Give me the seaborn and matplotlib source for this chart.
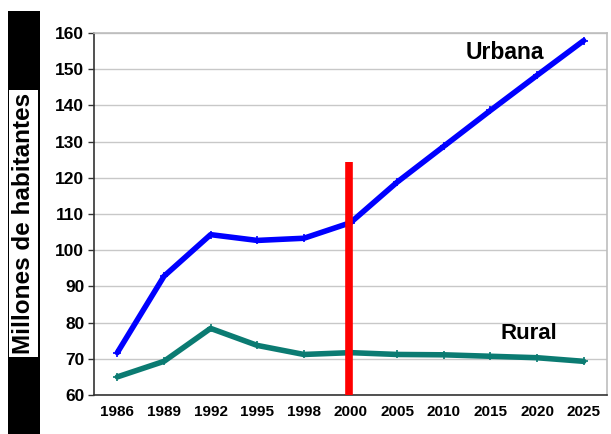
import matplotlib
matplotlib.use("Agg")
import matplotlib.pyplot as plt
from matplotlib.patches import Rectangle
import seaborn as sns
import pandas as pd
import numpy as np

# Population data (millions)
years = ["1986", "1989", "1992", "1995", "1998", "2000",
         "2005", "2010", "2015", "2020", "2025"]
urbana = [71.7, 92.8, 104.3, 102.7, 103.3, 107.6,
          118.8, 128.7, 138.6, 148.3, 157.9]
rural = [65.0, 69.3, 78.4, 73.7, 71.2, 71.7,
         71.2, 71.1, 70.7, 70.3, 69.3]
marker_pos = 4.96      # vertical red reference line (category position)
marker_top = 124.4

sns.set_theme(style="white")
plt.rcParams["font.family"] = ["Liberation Sans", "DejaVu Sans"]
plt.rcParams["text.color"] = "black"
plt.rcParams["xtick.color"] = "#333333"
plt.rcParams["ytick.color"] = "#333333"
plt.rcParams["xtick.labelcolor"] = "black"
plt.rcParams["ytick.labelcolor"] = "black"

colors = {"Urbana": "#0000ff", "Rural": "#0b7b72"}
df = pd.DataFrame({
    "pos": list(range(len(years))) * 2,
    "valor": urbana + rural,
    "serie": ["Urbana"] * len(years) + ["Rural"] * len(years),
})

fig = plt.figure(figsize=(6.11, 4.34), dpi=100)
fig.patch.set_facecolor("white")
ax = fig.add_axes([94 / 611, 1 - 395 / 434, (607 - 94) / 611, (395 - 33) / 434])

sns.lineplot(data=df, x="pos", y="valor", hue="serie", palette=colors,
             linewidth=4.0, marker="+", markersize=5.5, markeredgewidth=1.2,
             legend=False, ax=ax, zorder=3)
for line in ax.get_lines():
    line.set_markeredgecolor(line.get_color())

ax.vlines(marker_pos, 60, marker_top, color="#ff0000", linewidth=5.5, zorder=4)

ax.set_xlim(-0.5, len(years) - 0.5)
ax.set_ylim(60, 160)
ax.set_yticks(np.arange(60, 161, 10))
ax.set_xticks(range(len(years)))
ax.set_xticklabels(years, fontsize=11, fontweight="bold")
ax.set_xticks(np.arange(-0.5, len(years), 1), minor=True)
ax.tick_params(axis="x", which="major", length=0, pad=7)
ax.tick_params(axis="x", which="minor", length=5, width=1, direction="out")
ax.tick_params(axis="y", length=4, width=1, direction="out", pad=3, left=True)
for lab in ax.get_yticklabels():
    lab.set_fontsize(12.5)
    lab.set_fontweight("bold")

ax.grid(axis="y", color="#c8c8c8", linewidth=1)
ax.set_axisbelow(True)
ax.set_xlabel("")
ax.set_ylabel("")
for side in ("left", "bottom"):
    ax.spines[side].set_color("#333333")
    ax.spines[side].set_linewidth(1.2)
for side in ("top", "right"):
    ax.spines[side].set_color("#bdbdbd")
    ax.spines[side].set_linewidth(1.2)

ax.text(8.32, 154.5, "Urbana", fontsize=16.5, fontweight="bold", ha="center", va="center")
ax.text(8.83, 77.1, "Rural", fontsize=16, fontweight="bold", ha="center", va="center")

# Axis title panel on the left
fig.patches.append(Rectangle((8 / 611, 0), 32 / 611, 1 - 11 / 434,
                             transform=fig.transFigure, facecolor="black",
                             edgecolor="none", zorder=0))
fig.patches.append(Rectangle((9 / 611, 1 - 357 / 434), 29 / 611, (357 - 90) / 434,
                             transform=fig.transFigure, facecolor="white",
                             edgecolor="none", zorder=1))
fig.text(23.5 / 611, 1 - 223.5 / 434, "Millones de habitantes", rotation=90,
         fontsize=17.5, fontweight="bold", ha="center", va="center")

fig.savefig("out.png", dpi=100)
